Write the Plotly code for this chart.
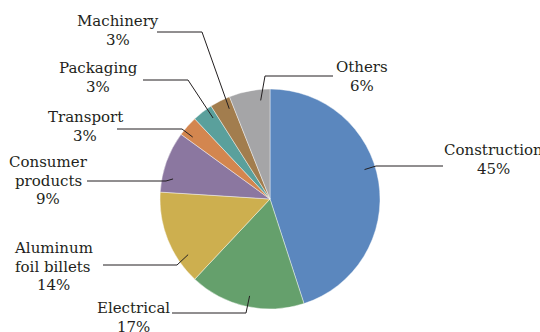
import math
import plotly.graph_objects as go

# Aluminium end-use shares (%)
categories = ["Construction", "Electrical", "Aluminum foil billets", "Consumer products",
              "Transport", "Packaging", "Machinery", "Others"]
shares = [45, 17, 14, 9, 3, 3, 3, 6]
label_lines = [["Construction"], ["Electrical"], ["Aluminum", "foil billets"], ["Consumer", "products"],
               ["Transport"], ["Packaging"], ["Machinery"], ["Others"]]
colors = ["#5B87BE", "#65A06C", "#CDAF4F", "#8B77A0", "#D3864F", "#5AA09C", "#A27D4E", "#A5A5A7"]

W, H = 540, 332
CX, CY, R = 270, 199, 110          # pie centre and radius in pixels
FONT = "DejaVu Serif"
FS = 15
LINE_H = 18.5

# label block placement: centre x, first line y, leader line (text end, elbow) in pixels
label_pos = [
    (493, 150, (443, 166), (376, 166)),
    (133, 308, (172, 313), (246, 313)),
    (53, 248, (103, 265), (177, 265)),
    (48, 162, (87, 181), (166, 181)),
    (85, 117, (117, 129), (182, 129)),
    (98, 68, (143, 80), (188, 80)),
    (118, 21, (157, 32), (202, 32)),
    (362, 67, (333, 76), (265, 76)),
]


def px(x):
    return x / W


def py(y):
    return 1 - y / H


fig = go.Figure(go.Pie(
    labels=categories, values=shares, sort=False, direction="clockwise", rotation=0,
    marker=dict(colors=colors, line=dict(color="rgba(255,255,255,0.6)", width=0.7)),
    textinfo="none", hoverinfo="label+percent", showlegend=False,
    domain=dict(x=[px(CX - R), px(CX + R)], y=[py(CY + R), py(CY - R)]),
))

annotations = []
shapes = []
total = sum(shares)
start = 0.0
for lines, v, (lx, ly, tend, elbow) in zip(label_lines, shares, label_pos):
    a0 = start / total * 360
    a1 = (start + v) / total * 360
    start += v
    # leader anchor: direction of the elbow, kept inside the slice
    ang = math.degrees(math.atan2(elbow[0] - CX, CY - elbow[1])) % 360
    lo, hi = a0 + 0.25 * (a1 - a0), a1 - 0.25 * (a1 - a0)
    ang = min(max(ang, lo), hi)
    ax = CX + 0.9 * R * math.sin(math.radians(ang))
    ay = CY - 0.9 * R * math.cos(math.radians(ang))
    path = f"M {px(tend[0])} {py(tend[1])} L {px(elbow[0])} {py(elbow[1])} L {px(ax)} {py(ay)}"
    shapes.append(dict(type="path", xref="paper", yref="paper", path=path,
                       line=dict(color="#231F20", width=1)))
    for i, t in enumerate(lines + [f"{v}%"]):
        annotations.append(dict(text=t, x=px(lx), y=py(ly + i * LINE_H), xref="paper", yref="paper",
                                xanchor="center", yanchor="middle", showarrow=False,
                                font=dict(family=FONT, size=FS, color="#231F20")))

fig.update_layout(width=W, height=H, autosize=False, margin=dict(l=0, r=0, t=0, b=0),
                  font=dict(family=FONT),
                  paper_bgcolor="white", plot_bgcolor="white",
                  annotations=annotations, shapes=shapes)

fig.write_html("out.html")
